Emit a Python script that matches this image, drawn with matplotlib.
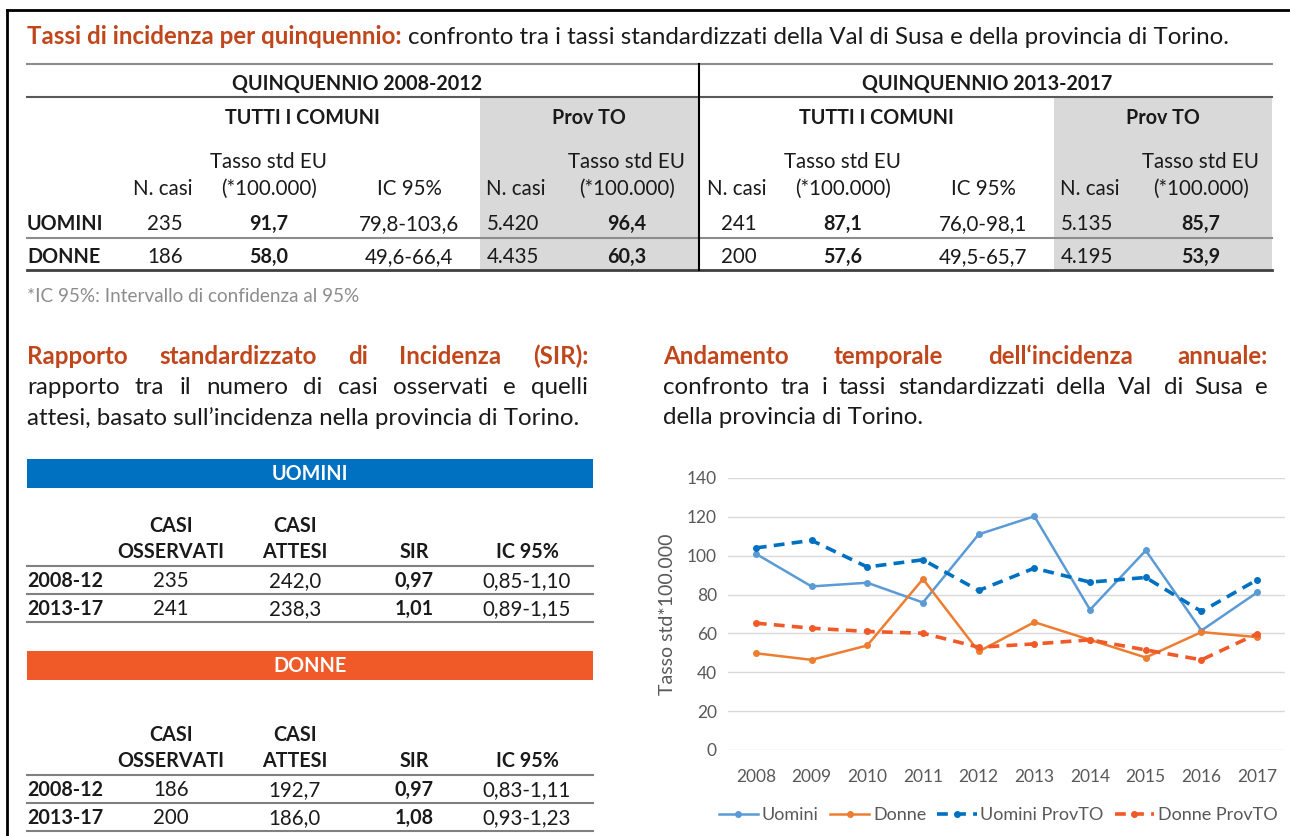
import matplotlib
matplotlib.use("Agg")
import matplotlib.pyplot as plt
from matplotlib.patches import Rectangle

plt.rcParams['font.family'] = ['Lato', 'DejaVu Sans']

# ---- data ----
anni = ["2008", "2009", "2010", "2011", "2012", "2013", "2014", "2015", "2016", "2017"]
uomini = [101.0, 84.2, 86.1, 75.9, 111.0, 120.3, 72.2, 102.7, 61.5, 81.1]
donne = [49.8, 46.4, 53.8, 88.0, 50.7, 65.8, 56.7, 47.6, 60.7, 58.1]
uomini_prov = [104.0, 107.9, 94.2, 97.9, 82.1, 93.6, 86.4, 88.8, 71.3, 87.6]
donne_prov = [65.3, 62.7, 61.0, 60.1, 52.9, 54.6, 56.7, 51.5, 46.4, 59.8]

quinquenni = ["QUINQUENNIO 2008-2012", "QUINQUENNIO 2013-2017"]
sessi = ["UOMINI", "DONNE"]
n_casi = [["235", "186"], ["241", "200"]]
tasso = [["91,7", "58,0"], ["87,1", "57,6"]]
ic95 = [["79,8-103,6", "49,6-66,4"], ["76,0-98,1", "49,5-65,7"]]
n_casi_prov = [["5.420", "4.435"], ["5.135", "4.195"]]
tasso_prov = [["96,4", "60,3"], ["85,7", "53,9"]]

periodi = ["2008-12", "2013-17"]
oss_uomini = ["235", "241"]
att_uomini = ["242,0", "238,3"]
sir_uomini = ["0,97", "1,01"]
ic_uomini = ["0,85-1,10", "0,89-1,15"]
oss_donne = ["186", "200"]
att_donne = ["192,7", "186,0"]
sir_donne = ["0,97", "1,08"]
ic_donne = ["0,83-1,11", "0,93-1,23"]

ORANGE_T = "#C0461B"
TXT = "#1A1A1A"
FS = 14.8   # table text, regular
FB = 14.2   # table text, bold
FT = 17.4   # headings / paragraphs

fig = plt.figure(figsize=(12.9, 8.36), dpi=100)
ax0 = fig.add_axes([0, 0, 1, 1])
ax0.set_xlim(0, 1290)
ax0.set_ylim(836, 0)
ax0.axis("off")
renderer = fig.canvas.get_renderer()


def t(x, y, s, **kw):
    kw.setdefault("va", "center")
    kw.setdefault("color", TXT)
    if "fontsize" not in kw:
        kw["fontsize"] = FB if kw.get("weight") == "bold" else FS
    return ax0.text(x, y, s, **kw)


def width(txt):
    return txt.get_window_extent(renderer).width


def justify(words, x0, x1, y, **kw):
    items = [t(0, y, w, **kw) for w in words]
    ws = [width(i) for i in items]
    gap = (x1 - x0 - sum(ws)) / (len(words) - 1)
    x = x0
    for i, w in zip(items, ws):
        i.set_x(x)
        x += w + gap


# frame
ax0.plot([7, 7], [10, 836], color="black", lw=2)
ax0.plot([7, 1290], [10, 10], color="black", lw=2)

# title
a = t(27, 37, "Tassi di incidenza per quinquennio:", fontsize=FT, weight="bold", color=ORANGE_T)
t(27 + width(a) + 6, 37, "confronto tra i tassi standardizzati della Val di Susa e della provincia di Torino.",
  fontsize=FT)

# ---- table by quinquennio ----
ax0.add_patch(Rectangle((480, 97), 219, 173, color="#D9D9D9", lw=0))
ax0.add_patch(Rectangle((1054, 97), 218, 173, color="#D9D9D9", lw=0))
ax0.plot([27, 1272], [64, 64], color="#8C8C8C", lw=1.5)
ax0.plot([27, 1272], [97, 97], color="#595959", lw=1.5)
ax0.plot([27, 1272], [238, 238], color="#8C8C8C", lw=1.5)
ax0.plot([27, 1272], [270, 270], color="#404040", lw=2)
ax0.plot([699, 699], [64, 270], color="black", lw=1.5)

row_y = [224, 257]
for r, s in enumerate(sessi):
    t(27, row_y[r], s, weight="bold")

blocks = [(0, 357), (574, 987)]
for q, (dx, cx) in enumerate(blocks):
    t(cx, 84, quinquenni[q], weight="bold", ha="center")
    t(302 + dx, 118, "TUTTI I COMUNI", weight="bold", ha="center")
    t(589 + dx, 118, "Prov TO", weight="bold", ha="center")
    t(163 + dx, 189, "N. casi", ha="center")
    t(269 + dx, 162, "Tasso std EU", ha="center")
    t(269 + dx, 189, "(*100.000)", ha="center")
    t(409 + dx, 189, "IC 95%", ha="center")
    t(516 + dx, 189, "N. casi", ha="center")
    t(627 + dx, 162, "Tasso std EU", ha="center")
    t(627 + dx, 189, "(*100.000)", ha="center")
    for r in range(2):
        y = row_y[r]
        t(165 + dx, y, n_casi[q][r], ha="center")
        t(269 + dx, y, tasso[q][r], ha="center", weight="bold")
        t(409 + dx, y, ic95[q][r], ha="center")
        t(513 + dx, y, n_casi_prov[q][r], ha="center")
        t(627 + dx, y, tasso_prov[q][r], ha="center", weight="bold")

t(27, 297, "*IC 95%: Intervallo di confidenza al 95%", fontsize=13.6, color="#8C8C8C")

# ---- SIR section ----
justify("Rapporto standardizzato di Incidenza (SIR):".split(), 27, 588, 356,
        fontsize=FT, weight="bold", color=ORANGE_T)
justify("rapporto tra il numero di casi osservati e quelli".split(), 27, 588, 387, fontsize=FT)
t(27, 418, "attesi, basato sull\u2019incidenza nella provincia di Torino.", fontsize=FT)

sir_tables = [
    ("UOMINI", "#0070C0", 459, oss_uomini, att_uomini, sir_uomini, ic_uomini),
    ("DONNE", "#F05A28", 651, oss_donne, att_donne, sir_donne, ic_donne),
]
for k, (nome, col, top, oss, att, sir, ic) in enumerate(sir_tables):
    ax0.add_patch(Rectangle((27, top), 566, 29, color=col, lw=0))
    t(310, top + 15, nome, weight="bold", color="white", ha="center")
    hy = top + 93 if k == 0 else top + 110
    t(171, hy - 26, "CASI", weight="bold", ha="center")
    t(171, hy, "OSSERVATI", weight="bold", ha="center")
    t(295, hy - 26, "CASI", weight="bold", ha="center")
    t(295, hy, "ATTESI", weight="bold", ha="center")
    t(414, hy, "SIR", weight="bold", ha="center")
    t(527, hy, "IC 95%", weight="bold", ha="center")
    ly = hy + 14
    for r in range(2):
        ax0.plot([27, 593], [ly + 28 * r, ly + 28 * r], color="#808080", lw=1.5)
        y = ly + 15 + 28 * r
        t(27, y, periodi[r], weight="bold")
        t(171, y, oss[r], ha="center")
        t(295, y, att[r], ha="center")
        t(414, y, sir[r], ha="center", weight="bold")
        t(527, y, ic[r], ha="center")
    ax0.plot([27, 593], [ly + 56, ly + 56], color="#808080", lw=1.5)

# ---- trend section ----
justify("Andamento temporale dell\u2018incidenza annuale:".split(), 663, 1268, 356,
        fontsize=FT, weight="bold", color=ORANGE_T)
justify("confronto tra i tassi standardizzati della Val di Susa e".split(), 663, 1268, 387, fontsize=FT)
t(663, 418, "della provincia di Torino.", fontsize=FT)

ax = fig.add_axes([728 / 1290, 1 - 750 / 836, 557 / 1290, 272 / 836])
x = range(len(anni))
ax.plot(x, uomini, color="#5B9BD5", lw=1.8, marker="o", ms=4, label="Uomini")
ax.plot(x, donne, color="#ED7D31", lw=1.8, marker="o", ms=4, label="Donne")
ax.plot(x, uomini_prov, color="#0070C0", lw=2.6, ls=(0, (3, 2)), marker="o", ms=4, label="Uomini ProvTO")
ax.plot(x, donne_prov, color="#F05A28", lw=2.6, ls=(0, (3, 2)), marker="o", ms=4, label="Donne ProvTO")
ax.set_xlim(-0.5, 9.5)
ax.set_ylim(0, 140)
ax.set_yticks(range(0, 141, 20))
ax.set_xticks(list(x))
ax.set_xticklabels(anni)
ax.grid(axis="y", color="#D9D9D9", lw=1)
ax.set_axisbelow(True)
for sp in ax.spines.values():
    sp.set_visible(False)
ax.tick_params(length=0, labelsize=12.5, labelcolor="#595959", pad=8)
ax.tick_params(axis="x", pad=14)
ax.set_ylabel("Tasso std*100.000", fontsize=14, color="#595959", labelpad=8)
ax.legend(loc="center", bbox_to_anchor=(0.485, -0.24), ncol=4, frameon=False,
          fontsize=13, labelcolor="#595959", handlelength=2.2, columnspacing=0.6, handletextpad=0.2)

fig.savefig("out.png", dpi=100)
